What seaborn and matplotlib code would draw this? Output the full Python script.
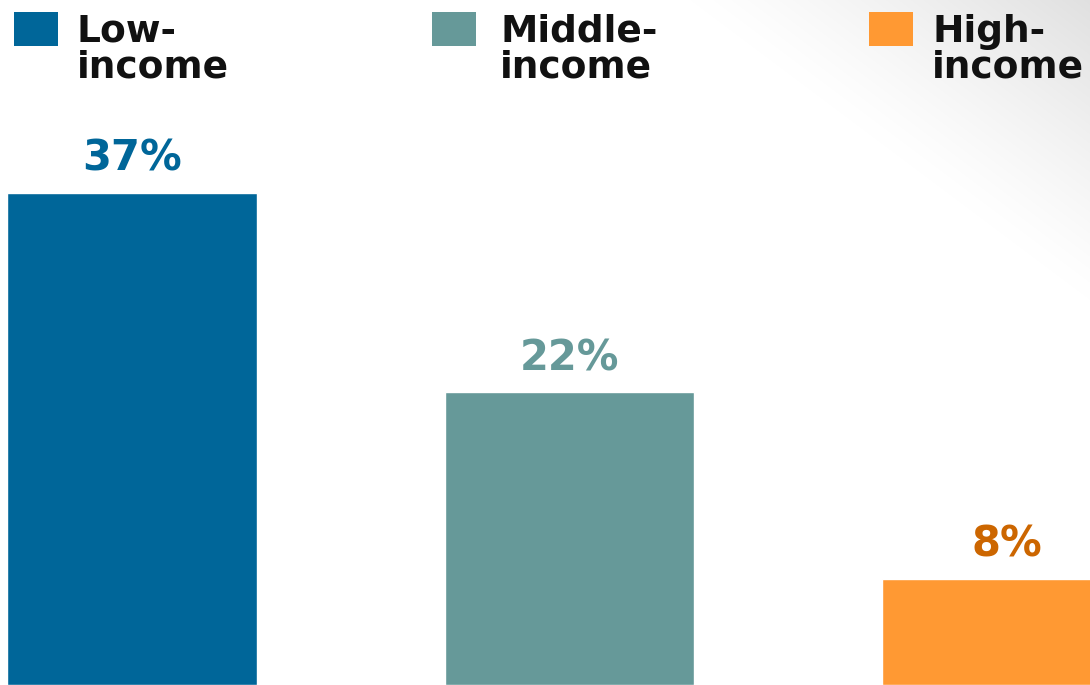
import numpy as np
import pandas as pd
import matplotlib
matplotlib.use("Agg")
import matplotlib.pyplot as plt
from matplotlib.patches import Rectangle
import seaborn as sns

# Share by income group
categories = ["Low-\nincome", "Middle-\nincome", "High-\nincome"]
values = [37, 22, 8]
bar_colors = ["#006699", "#669999", "#FF9933"]
label_colors = ["#006699", "#669999", "#CC6600"]
value_labels = ["37%", "22%", "8%"]

W, H, DPI = 1090, 685, 100
sns.set_theme(style="white")
plt.rcParams["font.family"] = ["DejaVu Sans"]

fig = plt.figure(figsize=(W / DPI, H / DPI), dpi=DPI)
fig.patch.set_facecolor("white")

# soft grey wash in the top-right corner
bg = fig.add_axes([0, 0, 1, 1], zorder=0)
xx, yy = np.meshgrid(np.arange(W), np.arange(H))
t = 1 - (W - xx) / 400 - yy / 300
t = np.clip(t, 0, 1)
shade = 1 - 0.12 * t ** 1.2
bg.imshow(np.dstack([shade, shade, shade]), extent=[0, W, H, 0], aspect="auto",
          interpolation="bilinear")
bg.set_axis_off()

ax = fig.add_axes([0, 0, 1, 1], zorder=1)
ax.patch.set_alpha(0)
df = pd.DataFrame({"group": categories, "share": values})
sns.barplot(data=df, x="group", y="share", hue="group", palette=bar_colors,
            dodge=False, width=0.57, saturation=1, legend=False, ax=ax)
ax.set_xlim(-0.302, 2.19)
ax.set_ylim(0, 51.5)
ax.set_axis_off()

for i, (v, lab, c) in enumerate(zip(values, value_labels, label_colors)):
    ax.annotate(lab, xy=(i, v), xytext=(0, 16), textcoords="offset points",
                ha="center", va="baseline", fontsize=30, fontweight="bold",
                color=c)

# legend keys
key_x = [14, 432, 869]
text_x = [77, 500, 932]
for x0, tx, name, c in zip(key_x, text_x, categories, bar_colors):
    fig.add_artist(Rectangle((x0 / W, 1 - 46 / H), 44 / W, 34 / H,
                             transform=fig.transFigure, facecolor=c,
                             edgecolor="none", zorder=2))
    fig.text(tx / W, 1 - 14 / H, name, ha="left", va="top",
             fontsize=27, fontweight="bold", color="#111111",
             linespacing=0.98, zorder=2)

fig.savefig("out.png", dpi=DPI)
